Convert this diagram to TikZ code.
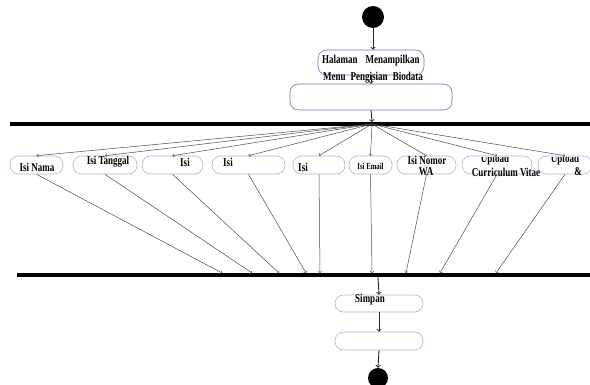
\documentclass[tikz,border=0pt]{standalone}
\usepackage{fontspec}
\setmainfont{Liberation Serif}
\newfontfamily\boxfont[FakeStretch=0.75]{Liberation Serif Bold}
\definecolor{boxblue}{RGB}{100,120,180}
\definecolor{boxpale}{RGB}{170,180,218}
\definecolor{wire}{RGB}{75,75,75}

\begin{document}
\begin{tikzpicture}[x=1pt,y=-1pt,
  act/.style={draw=boxpale, rounded corners=8.5pt, inner sep=0pt, line width=0.6pt},
  lbl/.style={inner sep=0pt, font=\boxfont\fontsize{12}{12}\selectfont},
  wireline/.style={->, draw=wire, line width=0.5pt},
  spine/.style={->, draw=black!85, line width=0.9pt},
  bar/.style={line width=3.5pt}]
\useasboundingbox (0,0) rectangle (590,385); %frame of the picture

\node[circle, fill, minimum size=22pt, inner sep=0pt] (start) at (373,17) {}; %start dot
\node[act, draw=boxblue, minimum width=106pt, minimum height=25pt] (halaman) at (371,62.5) {}; %first activity
\node[lbl] (halamantxtA) at (371,61) {Halaman\hspace{8pt}Menampilkan};
\node[lbl] (halamantxtB) at (373,78) {Menu\hspace{5pt}Pengisian\hspace{5pt}Biodata};
\node[act, draw=boxblue, minimum width=162pt, minimum height=26pt] (form) at (371,97) {}; %empty activity

\draw[spine] (start.south) -- (start.south |- halaman.north);
\draw[spine] (halaman.south) -- (form.north);

\draw[bar] (10,124) -- (590,124); %fork bar
\coordinate (fork) at (372,124);
\coordinate (forktop) at (372,122);
\draw[spine] (form.south) -- (forktop);

% the nine activities between the bars
\node[act, minimum width=53pt, minimum height=18pt] (nama) at (36.5,165) {};
\node[act, minimum width=64pt, minimum height=18pt] (tanggal) at (105,165) {};
\node[act, minimum width=61pt, minimum height=18pt] (isiA) at (172.5,165) {};
\node[act, minimum width=73pt, minimum height=18pt] (isiB) at (248.5,165) {};
\node[act, minimum width=52pt, minimum height=18pt] (isiC) at (319,165) {};
\node[act, minimum width=43pt, minimum height=18pt] (email) at (370.5,165) {};
\node[act, minimum width=59pt, minimum height=18pt] (nomorwa) at (426.5,165) {};
\node[act, minimum width=70pt, minimum height=18pt] (uploadcv) at (497,165) {};
\node[act, minimum width=54pt, minimum height=18pt] (uploadB) at (565,165) {};

\node[lbl] (namatxt) at (37,167) {Isi Nama};
\node[lbl] (tanggaltxt) at (108,162) {Isi Tanggal};
\node[lbl] (isiAtxt) at (185,162) {Isi};
\node[lbl] (isiBtxt) at (228,162) {Isi};
\node[lbl] (isiCtxt) at (303,167) {Isi};
\begin{scope}
\clip (345,163) rectangle (395,180); %cut top of the email label
\node[lbl, font=\boxfont\fontsize{9}{9}\selectfont] (emailtxt) at (370.5,166.5) {Isi Email};
\end{scope}
\node[lbl] (nomortxt) at (427,160) {Isi Nomor};
\node[lbl] (watxt) at (426,172) {WA};
\begin{scope}
\clip (460,158) rectangle (590,170); %cut top of the upload labels
\node[lbl] (uploadAtxt) at (495,160) {Upload};
\node[lbl] (uploadBtxt) at (565,160) {Upload};
\end{scope}
\node[lbl] (cvtxt) at (506,172) {Curriculum Vitae};
\node[lbl] (amptxt) at (578,172) {\&};

% fork to each activity
\draw[wireline] (fork) -- (nama.north);
\draw[wireline] (fork) -- (tanggal.north);
\draw[wireline] (fork) -- (isiA.north);
\draw[wireline] (fork) -- (isiB.north);
\draw[wireline] (fork) -- (isiC.north);
\draw[wireline] (fork) -- (email.north);
\draw[wireline] (fork) -- (nomorwa.north);
\draw[wireline] (fork) -- (uploadcv.north);
\draw[wireline] (fork) -- (uploadB.north);

\draw[bar] (17,275) -- (590,275); %join bar
\coordinate (j1) at (222,273);
\coordinate (j2) at (252,273);
\coordinate (j3) at (279,273);
\coordinate (j4) at (306,273);
\coordinate (j5) at (320,273);
\coordinate (j6) at (372,273);
\coordinate (j7) at (406,273);
\coordinate (j8) at (440,273);
\coordinate (j9) at (496,273);

% each activity to the join bar
\draw[wireline] (nama.south) -- (j1);
\draw[wireline] (tanggal.south) -- (j2);
\draw[wireline] (isiA.south) -- (j3);
\draw[wireline] (isiB.south) -- (j4);
\draw[wireline] (isiC.south) -- (j5);
\draw[wireline] (email.south) -- (j6);
\draw[wireline] (nomorwa.south) -- (j7);
\draw[wireline] (uploadcv.south) -- (j8);
\draw[wireline] (uploadB.south) -- (j9);

\node[act, minimum width=88pt, minimum height=17pt] (simpan) at (379,303.5) {}; %save
\node[lbl] (simpantxt) at (370,300) {Simpan};
\node[act, minimum width=88pt, minimum height=18pt] (done) at (379,341) {}; %empty activity
\node[circle, fill, minimum size=20pt, inner sep=0pt] (finish) at (378,378) {}; %end dot

\coordinate (join) at (378,277);
\draw[spine] (join) -- (simpan.north);
\draw[spine] (simpan.south) -- (done.north);
\draw[spine] (done.south) -- (finish.north);
\end{tikzpicture}
\end{document}
